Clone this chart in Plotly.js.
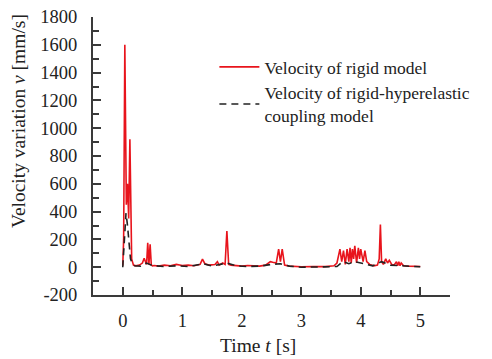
<!DOCTYPE html>
<html>
<head>
<meta charset="utf-8">
<script src="https://cdn.plot.ly/plotly-3.0.1.min.js"></script>
<style>html,body{margin:0;padding:0;background:#fff;}#chart{width:492px;height:359px;}</style>
</head>
<body>
<div id="chart"></div>
<script>
// Velocity of rigid model (red)
var rigidT = [0, 0.015, 0.035, 0.06, 0.08, 0.1, 0.12, 0.15, 0.18, 0.22, 0.28, 0.33, 0.36, 0.38, 0.4, 0.42, 0.44, 0.46, 0.48, 0.5, 0.53, 0.6, 0.7, 0.8, 0.9, 1.0, 1.1, 1.2, 1.3, 1.34, 1.38, 1.45, 1.55, 1.59, 1.62, 1.68, 1.72, 1.75, 1.78, 1.82, 1.9, 2.0, 2.1, 2.2, 2.3, 2.4, 2.48, 2.52, 2.58, 2.62, 2.65, 2.68, 2.72, 2.8, 2.9, 3.0, 3.2, 3.4, 3.55, 3.6, 3.65, 3.68, 3.71, 3.74, 3.77, 3.8, 3.82, 3.84, 3.86, 3.88, 3.9, 3.93, 3.96, 3.98, 4.0, 4.04, 4.07, 4.1, 4.15, 4.22, 4.28, 4.31, 4.33, 4.35, 4.38, 4.42, 4.45, 4.48, 4.52, 4.56, 4.6, 4.62, 4.64, 4.66, 4.68, 4.72, 4.8, 4.9, 5.0];
var rigidV = [10, 200, 1600, 450, 600, 350, 920, 60, 15, 10, 15, 30, 65, 40, 20, 175, 20, 165, 15, 10, 12, 8, 15, 10, 20, 12, 15, 10, 20, 58, 25, 15, 20, 40, 15, 30, 20, 261, 20, 15, 10, 8, 12, 10, 8, 15, 40, 35, 30, 130, 40, 130, 15, 8, 5, 3, 5, 4, 10, 30, 130, 40, 120, 20, 130, 40, 140, 30, 130, 60, 153, 30, 140, 60, 130, 40, 120, 40, 20, 10, 15, 60, 307, 40, 20, 60, 30, 50, 20, 15, 40, 10, 40, 10, 30, 10, 8, 5, 5];
// Velocity of rigid-hyperelastic coupling model (black dashed)
var coupT = [0, 0.02, 0.055, 0.08, 0.1, 0.13, 0.16, 0.2, 0.3, 0.4, 0.5, 0.7, 0.9, 1.1, 1.35, 1.5, 1.75, 1.9, 2.1, 2.3, 2.5, 2.65, 2.8, 3.0, 3.3, 3.6, 3.7, 3.8, 3.9, 4.0, 4.1, 4.2, 4.35, 4.5, 4.7, 4.85, 5.0];
var coupV = [0, 150, 390, 300, 200, 60, 25, 10, 8, 30, 12, 5, 10, 5, 25, 8, 30, 10, 5, 8, 20, 25, 8, 0, 2, 5, 40, 25, 40, 30, 15, 10, 40, 15, 10, 5, 3];
var xTickVals = [0, 1, 2, 3, 4, 5];
var yTickVals = [-200, 0, 200, 400, 600, 800, 1000, 1200, 1400, 1600, 1800];
var yTickText = ['-200', '0', '200', '400', '600', '800', '1000', '1200', '1400', '1600', '1800'];

var FONT = 'Liberation Serif, Times New Roman, serif';
var AX = '#3a3a3a';

var traces = [
  {x: rigidT, y: rigidV, type: 'scatter', mode: 'lines', name: 'Velocity of rigid model',
   line: {color: '#e8141c', width: 1.6}},
  {x: coupT, y: coupV, type: 'scatter', mode: 'lines', name: 'Velocity of rigid-hyperelastic<br>coupling model',
   line: {color: '#222222', width: 1.6, dash: '7px,5px'}}
];

var layout = {
  width: 492, height: 359,
  margin: {l: 93, r: 42, t: 17, b: 64},
  paper_bgcolor: '#fff', plot_bgcolor: '#fff',
  font: {family: FONT, size: 18, color: '#222'},
  showlegend: true,
  legend: {x: 0.34, y: 0.885, xanchor: 'left', yanchor: 'top', bgcolor: 'rgba(0,0,0,0)', itemwidth: 40,
           font: {family: FONT, size: 17.5, color: '#222'}, tracegroupgap: 4},
  xaxis: {range: [-0.5, 5.5], tickvals: xTickVals, ticks: 'inside', ticklen: 8, tickwidth: 2,
          tickcolor: AX, showline: true, linecolor: AX, linewidth: 2, showgrid: false, zeroline: false,
          minor: {dtick: 0.5, tick0: 0, ticks: 'inside', ticklen: 5, tickwidth: 2, tickcolor: AX},
          ticklabelstandoff: 8, tickfont: {family: FONT, size: 18.5, color: '#222'}},
  yaxis: {range: [-200, 1800], tickvals: yTickVals, ticktext: yTickText, ticks: 'inside', ticklen: 8, tickwidth: 2,
          tickcolor: AX, showline: true, linecolor: AX, linewidth: 2, showgrid: false, zeroline: false,
          minor: {dtick: 100, tick0: 0, ticks: 'inside', ticklen: 6, tickwidth: 2, tickcolor: AX},
          ticklabelstandoff: 10, tickfont: {family: FONT, size: 18.5, color: '#222'}},
  annotations: [
    {text: 'Time <i>t</i> [s]', xref: 'paper', yref: 'paper', x: (258 - 93) / 357, y: (295 - 345) / 278,
     xanchor: 'center', yanchor: 'middle', showarrow: false, font: {family: FONT, size: 19.5, color: '#222'}},
    {text: 'Velocity variation <i>v</i> [mm/s]', xref: 'paper', yref: 'paper', x: -0.21, y: (295 - 121) / 278,
     xanchor: 'center', yanchor: 'middle', textangle: -90, showarrow: false, font: {family: FONT, size: 19.5, color: '#222'}}
  ]
};

Plotly.newPlot('chart', traces, layout, {displayModeBar: false, staticPlot: true});
</script>
</body>
</html>
